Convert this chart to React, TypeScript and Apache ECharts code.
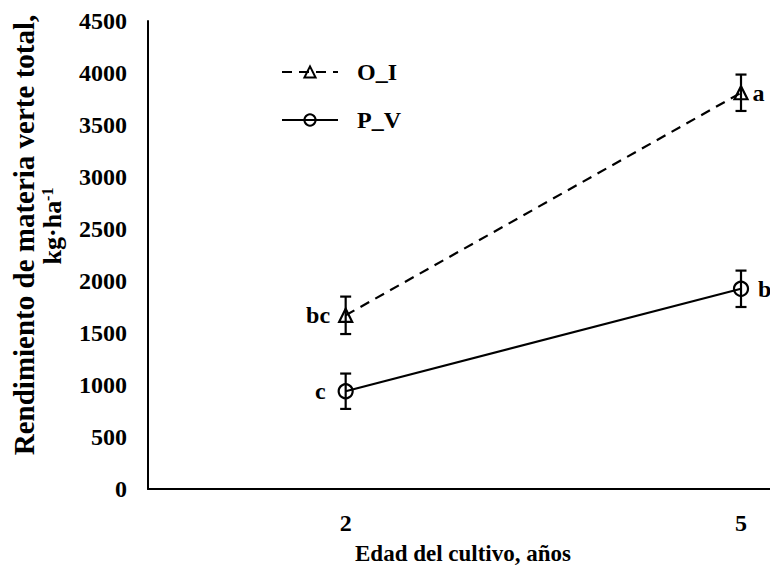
import React, { useEffect, useRef } from "react";
import * as echarts from "echarts";

const xValues = [2, 5];
const xTickLabels = ["2", "5"];
const seriesNames = ["O_I", "P_V"];
const oiValues = [1670, 3810];
const oiErrors = [180, 175];
const pvValues = [940, 1925];
const pvErrors = [170, 175];
const oiLetters = ["bc", "a"];
const pvLetters = ["c", "b"];
const yTitle1 = "Rendimiento de materia verte total,";
const xTitle = "Edad del cultivo, años";

const FONT = '"Liberation Serif", "Times New Roman", serif';

export default function App() {
  const ref = useRef<HTMLDivElement>(null);
  useEffect(() => {
    if (!ref.current) return;
    const chart = echarts.init(ref.current, undefined, { renderer: "svg" });

    const errData = (vals: number[], errs: number[]) =>
      xValues.map((x, i) => [x, vals[i] - errs[i], vals[i] + errs[i]]);

    const renderErr = (params: any, api: any) => {
      const x = api.value(0);
      const top = api.coord([x, api.value(2)]);
      const bot = api.coord([x, api.value(1)]);
      const cw = 5.5;
      const st = { stroke: "#000", lineWidth: 2.2 };
      return {
        type: "group",
        children: [
          { type: "line", shape: { x1: top[0], y1: top[1], x2: bot[0], y2: bot[1] }, style: st },
          { type: "line", shape: { x1: top[0] - cw, y1: top[1], x2: top[0] + cw, y2: top[1] }, style: st },
          { type: "line", shape: { x1: bot[0] - cw, y1: bot[1], x2: bot[0] + cw, y2: bot[1] }, style: st },
        ],
      };
    };

    const letterLabel = (text: string, position: string, distance: number) => ({
      show: true,
      position,
      distance,
      formatter: text,
      color: "#000",
      fontFamily: FONT,
      fontWeight: "bold",
      fontSize: 24,
    });

    chart.setOption({
      animation: false,
      backgroundColor: "#fff",
      grid: { left: 148, right: 0, top: 21, bottom: 82, containLabel: false },
      legend: {
        orient: "vertical",
        left: 276,
        top: 55,
        itemWidth: 56,
        itemHeight: 14,
        itemGap: 24,
        data: seriesNames,
        textStyle: {
          fontFamily: FONT,
          fontWeight: "bold",
          fontSize: 24,
          color: "#000",
          padding: [0, 0, 0, 14],
        },
      },
      xAxis: {
        type: "value",
        min: 0.5,
        max: 5.22,
        interval: 0.5,
        splitLine: { show: false },
        axisTick: { show: false },
        axisLine: { show: true, onZero: false, lineStyle: { color: "#000", width: 2 } },
        axisLabel: {
          margin: 22,
          fontFamily: FONT,
          fontWeight: "bold",
          fontSize: 24,
          color: "#000",
          showMinLabel: false,
          showMaxLabel: false,
          formatter: (v: number) => {
            const idx = xValues.indexOf(Math.round(v * 100) / 100);
            return idx >= 0 ? xTickLabels[idx] : "";
          },
        },
      },
      yAxis: {
        type: "value",
        min: 0,
        max: 4500,
        interval: 500,
        splitLine: { show: false },
        axisTick: { show: false },
        axisLine: { show: true, lineStyle: { color: "#000", width: 2 } },
        axisLabel: {
          margin: 21,
          fontFamily: FONT,
          fontWeight: "bold",
          fontSize: 24,
          color: "#000",
          formatter: (v: number) => String(v),
        },
      },
      graphic: [
        {
          type: "text",
          x: 24,
          y: 235,
          rotation: Math.PI / 2,
          style: {
            text: yTitle1,
            fontFamily: FONT,
            fontWeight: "bold",
            fontSize: 29,
            fill: "#000",
            align: "center",
            verticalAlign: "middle",
          },
        },
        {
          type: "text",
          x: 52,
          y: 226,
          rotation: Math.PI / 2,
          style: {
            text: "{n|kg·ha}{s|-1}",
            align: "center",
            verticalAlign: "middle",
            rich: {
              n: { fontFamily: FONT, fontWeight: "bold", fontSize: 26, fill: "#000", verticalAlign: "bottom" },
              s: { fontFamily: FONT, fontWeight: "bold", fontSize: 16, fill: "#000", verticalAlign: "top" },
            },
          },
        },
        {
          type: "text",
          x: 463,
          y: 553,
          style: {
            text: xTitle,
            fontFamily: FONT,
            fontWeight: "bold",
            fontSize: 23,
            fill: "#000",
            align: "center",
            verticalAlign: "middle",
          },
        },
      ],
      series: [
        {
          name: seriesNames[0],
          type: "line",
          symbol: "triangle",
          symbolSize: 13,
          lineStyle: { color: "#000", width: 2.2, type: [10, 7] },
          itemStyle: { color: "rgba(255,255,255,0)", borderColor: "#000", borderWidth: 2.2 },
          data: xValues.map((x, i) => ({
            value: [x, oiValues[i]],
            label: letterLabel(oiLetters[i], i === 0 ? "left" : "right", i === 0 ? 8 : 4),
          })),
          z: 3,
        },
        {
          name: seriesNames[1],
          type: "line",
          symbol: "circle",
          symbolSize: 14,
          lineStyle: { color: "#000", width: 2.2 },
          itemStyle: { color: "rgba(255,255,255,0)", borderColor: "#000", borderWidth: 2.2 },
          data: xValues.map((x, i) => ({
            value: [x, pvValues[i]],
            label: letterLabel(pvLetters[i], i === 0 ? "left" : "right", i === 0 ? 12 : 9),
          })),
          z: 3,
        },
        {
          type: "custom",
          name: "errOI",
          renderItem: renderErr,
          encode: { x: 0, y: [1, 2] },
          data: errData(oiValues, oiErrors),
          z: 4,
          silent: true,
        },
        {
          type: "custom",
          name: "errPV",
          renderItem: renderErr,
          encode: { x: 0, y: [1, 2] },
          data: errData(pvValues, pvErrors),
          z: 4,
          silent: true,
        },
      ],
    });
    return () => chart.dispose();
  }, []);
  return <div ref={ref} style={{ width: 770, height: 571, position: "absolute", left: 0, top: 0 }} />;
}
